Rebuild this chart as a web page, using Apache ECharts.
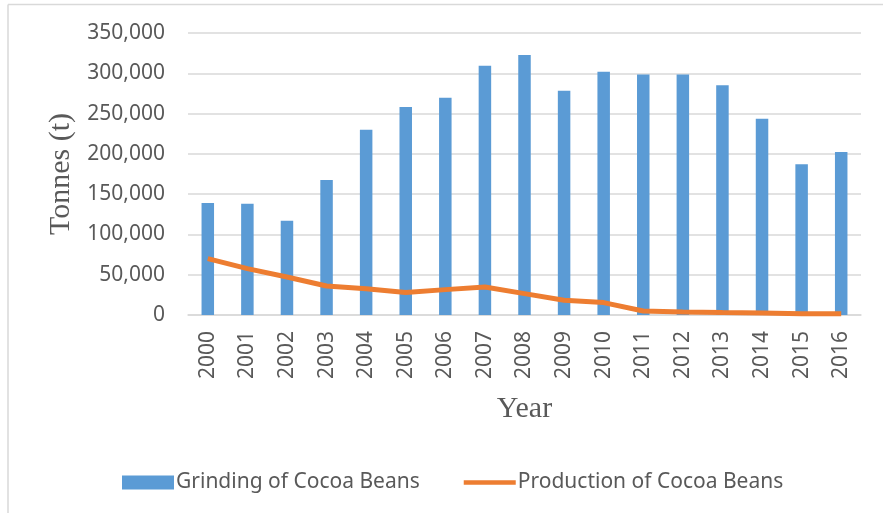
<!DOCTYPE html>
<html>
<head>
<meta charset="utf-8">
<script src="https://cdn.jsdelivr.net/npm/echarts@6/dist/echarts.min.js"></script>
<style>
  html, body { margin: 0; padding: 0; background: #fff; }
  #chart { width: 883px; height: 513px; }
</style>
</head>
<body>
<div id="chart"></div>
<script>
  const years = ['2000', '2001', '2002', '2003', '2004', '2005', '2006', '2007', '2008',
    '2009', '2010', '2011', '2012', '2013', '2014', '2015', '2016'];
  const grinding = [139000, 138200, 117100, 167700, 229800, 258200, 269700, 309400, 322600,
    278400, 301900, 298600, 298600, 285000, 243600, 187000, 202200];
  const production = [70000, 57600, 47100, 36000, 32700, 27800, 31500, 34700, 26500,
    18200, 15400, 5000, 3700, 3000, 2500, 1700, 1500];

  const sans = "'Noto Sans', 'Open Sans', sans-serif";
  const serif = "'Liberation Serif', 'DejaVu Serif', serif";
  const grey = '#d9d9d9';

  const chart = echarts.init(document.getElementById('chart'));

  chart.setOption({
    animation: false,
    grid: { left: 188, right: 22, top: 33, bottom: 198 },
    graphic: [
      { type: 'line', shape: { x1: 8, y1: 4.5, x2: 883, y2: 4.5 }, style: { stroke: grey, lineWidth: 1.5 } },
      { type: 'line', shape: { x1: 8, y1: 4.5, x2: 8, y2: 513 }, style: { stroke: grey, lineWidth: 1.5 } }
    ],
    legend: {
      left: 122,
      top: 472,
      padding: 0,
      itemWidth: 52,
      itemHeight: 14,
      itemGap: 44,
      textStyle: { fontFamily: sans, fontSize: 21, color: '#595959', padding: [0, 0, 0, -3] },
      data: [
        { name: 'Grinding of Cocoa Beans', icon: 'rect' },
        { name: 'Production of Cocoa Beans', icon: 'path://M0,0 L56,0 L56,5 L0,5 Z' }
      ]
    },
    xAxis: {
      type: 'category',
      data: years,
      name: 'Year',
      nameLocation: 'middle',
      nameGap: 79,
      nameTextStyle: { fontFamily: serif, fontSize: 30, color: '#595959' },
      axisLine: { lineStyle: { color: grey, width: 1.5 } },
      axisTick: { show: false },
      axisLabel: {
        rotate: 90,
        margin: 16,
        fontFamily: sans,
        fontSize: 21,
        color: '#595959'
      }
    },
    yAxis: {
      type: 'value',
      min: 0,
      max: 350000,
      interval: 50000,
      name: 'Tonnes (t)',
      nameLocation: 'middle',
      nameGap: 112,
      nameTextStyle: { fontFamily: serif, fontSize: 30, color: '#595959' },
      axisLine: { show: false },
      axisTick: { show: false },
      splitLine: { lineStyle: { color: grey, width: 1.5 } },
      axisLabel: {
        margin: 23,
        fontFamily: sans,
        fontSize: 21,
        color: '#595959',
        formatter: v => v.toLocaleString('en-US')
      }
    },
    series: [
      {
        name: 'Grinding of Cocoa Beans',
        type: 'bar',
        data: grinding,
        barWidth: 12.5,
        itemStyle: { color: '#5b9bd5' }
      },
      {
        name: 'Production of Cocoa Beans',
        type: 'line',
        data: production,
        symbol: 'none',
        lineStyle: { color: '#ed7d31', width: 5 },
        itemStyle: { color: '#ed7d31' }
      }
    ]
  });
</script>
</body>
</html>
